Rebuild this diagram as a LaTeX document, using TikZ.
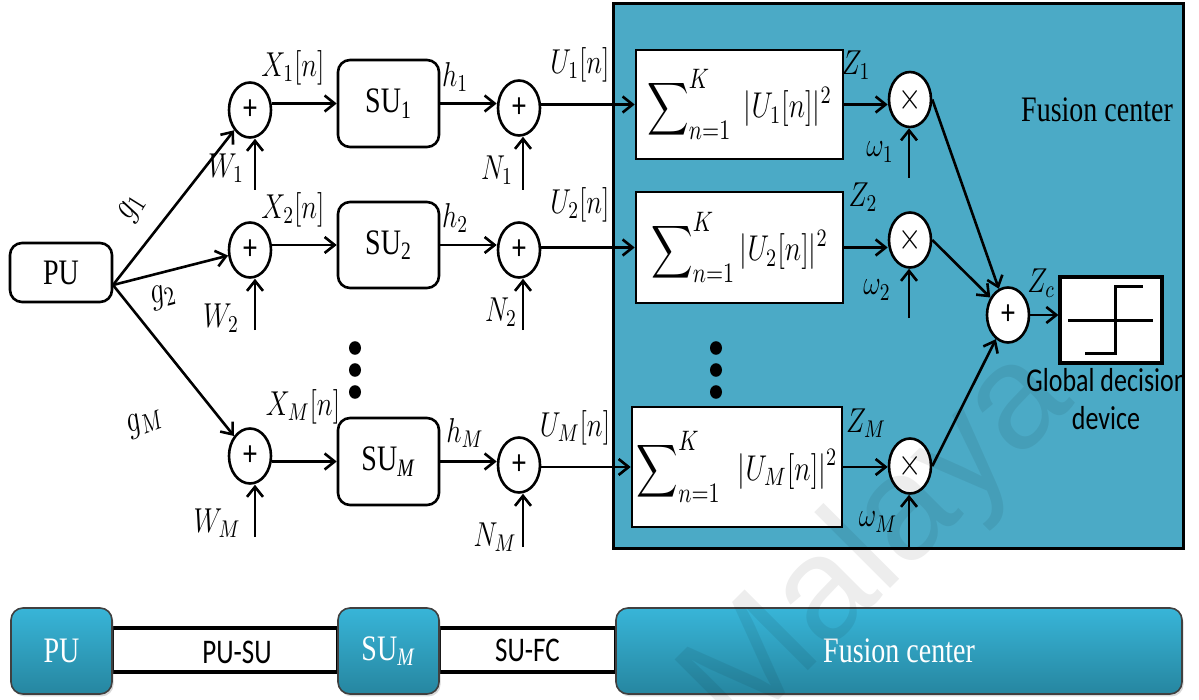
\RequirePackage{fix-cm}
\documentclass[tikz,border=0pt]{standalone}
\usepackage{exscale}
\usepackage{fontspec}
\setmainfont{Liberation Serif}
\newfontfamily\calib{Carlito}
\newfontfamily\wmfont{Liberation Sans}
\usetikzlibrary{shapes.geometric,arrows.meta,calc,shadows}
% all lettering is set slightly taller than wide
\newcommand\st[1]{\scalebox{1}[1.28]{#1}}
% sum limits set a little larger than ordinary script size
\newcommand\sumlim[1]{\mbox{\fontsize{11}{12}\selectfont$#1$}}
\newcommand\energy[2]{$\displaystyle\sum\nolimits_{\sumlim{n{=}1}}^{\sumlim{K}}#1|U_{#2}[n]|^2$}
\definecolor{fcblue}{RGB}{75,170,198}
\definecolor{btntop}{RGB}{56,181,216}
\definecolor{btnbot}{RGB}{38,134,160}

\begin{document}
\begin{tikzpicture}[x=0.5pt, y=-0.5pt, line width=1.3pt,
  >={Straight Barb[length=5pt,width=8pt]},
  every node/.style={inner sep=0pt},
  mathlab/.style={font=\fontsize{13.5}{15}\selectfont},
  glab/.style={font=\fontsize{15}{16}\selectfont},
  blk/.style={draw, rounded corners=6pt, fill=white, font=\fontsize{14}{16}\selectfont},
  addr/.style={draw, ellipse, fill=white, minimum width=21pt, minimum height=27.5pt,
               font=\calib\fontsize{14}{16}\selectfont},
  mult/.style={addr, font=\fontsize{15}{16}\selectfont},
  sumbox/.style={draw, fill=white, minimum width=103.5pt, font=\fontsize{14}{16}\selectfont},
  btn/.style={draw=black!75, line width=0.8pt, rounded corners=6pt,
              top color=btntop, bottom color=btnbot, text=white,
              minimum width=50.5pt, minimum height=43pt, font=\fontsize{14}{16}\selectfont,
              drop shadow={opacity=0.3, shadow xshift=0.8pt, shadow yshift=-1.2pt}},
  band/.style={draw, fill=white, line width=1.6pt, minimum height=22pt,
               font=\calib\fontsize{13.5}{16}\selectfont}
]
\useasboundingbox (0,0) rectangle (1199,700);
\clip (0,0) rectangle (1199,700);

% ---------- fusion centre background ----------
\node[fill=fcblue, minimum width=283.5pt, minimum height=271pt] (fc) at (898.5,276) {};

% ---------- primary user and fork ----------
\node[blk, minimum width=51pt, minimum height=29.5pt] (pu) at (61,272.5) {\st{PU}};
\coordinate (fork) at (113,285);

% ---------- first adders (fading noise W) ----------
\node[addr] (a1) at (250,110) {\st{+}};
\node[addr] (a2) at (250,250) {\st{+}};
\node[addr] (aM) at (250,456) {\st{+}};

% ---------- secondary users ----------
\node[blk, minimum width=50.5pt, minimum height=43.5pt] (su1) at (388.5,103.5) {\st{SU\textsubscript{1}}};
\node[blk, minimum width=50.5pt, minimum height=43pt]   (su2) at (388.5,245)   {\st{SU\textsubscript{2}}};
\node[blk, minimum width=50.5pt, minimum height=43.5pt] (suM) at (388.5,461.5) {\st{SU\textsubscript{\textit{M}}}};

% ---------- second adders (noise N) ----------
\node[addr] (b1) at (519,108) {\st{+}};
\node[addr] (b2) at (519,250) {\st{+}};
\node[addr] (bM) at (519,465) {\st{+}};

% ---------- energy detectors ----------
\node[sumbox, minimum height=54.5pt] (s1) at (739.5,104.5) {\st{\energy{\;}{1}}\hspace{5pt}};
\node[sumbox, minimum height=55.5pt] (s2) at (739.5,247.5) {\st{\energy{}{2}}\hspace{9pt}};
\node[sumbox, minimum width=105pt, minimum height=60pt] (sM) at (737,467) {\st{\energy{\;\,}{M}}\hspace{3pt}};

% ---------- weighting ----------
\node[mult] (m1) at (910,99.5) {\st{$\times$}};
\node[mult] (m2) at (910,240)  {\st{$\times$}};
\node[mult] (mM) at (910,466)  {\st{$\times$}};

% ---------- combiner and decision ----------
\node[addr] (sa) at (1008,315) {\st{+}};
\node[draw, fill=white, line width=1.6pt, minimum width=51pt, minimum height=43pt] (dec) at (1111,320) {};
\draw[line width=1.5pt] (1068,320) -- (1153,320);
\draw[line width=1.5pt] (1085,353) -- (1115,353) -- (1115,287) -- (1143,287);

% ---------- channels from the PU ----------
\draw[->] (fork) -- (a1);
\draw[->] (fork) -- (a2);
\draw[->] (fork) -- (aM);
\node[glab, rotate=58] (g1) at (132,208) {\st{$g_1$}};
\node[glab, rotate=15] (g2) at (163,297) {\st{$g_2$}};
\node[glab, rotate=20] (gM) at (145,423) {\st{$g_M$}};

% ---------- signal rows ----------
\draw[->] (a1.east |- su1.west) -- (su1.west);
\draw[->] (a2.east |- su2.west) -- (su2.west);
\draw[->] (aM.east |- suM.west) -- (suM.west);
\draw[->] (su1.east) -- (su1.east -| b1.west);
\draw[->] (su2.east) -- (su2.east -| b2.west);
\draw[->] (suM.east) -- (suM.east -| bM.west);
\draw[->] (b1.east |- s1.west) -- (s1.west);
\draw[->] (b2.east |- s2.west) -- (s2.west);
\draw[->] (bM.east |- sM.west) -- (sM.west);
\draw[->] (s1.east) -- (s1.east -| m1.west);
\draw[->] (s2.east) -- (s2.east -| m2.west);
\draw[->] (sM.east) -- (sM.east -| mM.west);
\draw[->] (m1.east) -- (sa);
\draw[->] (m2.east) -- (sa);
\draw[->] (mM.east) -- (sa);
\draw[->] (sa.east) -- (sa.east -| dec.west);

% ---------- additive inputs from below ----------
\coordinate (w1) at (255,190);  \draw[->] (w1) -- (w1 |- a1.south);
\coordinate (w2) at (255,330);  \draw[->] (w2) -- (w2 |- a2.south);
\coordinate (wM) at (255,537);  \draw[->] (wM) -- (wM |- aM.south);
\coordinate (n1) at (523,190);  \draw[->] (n1) -- (n1 |- b1.south);
\coordinate (n2) at (523,330);  \draw[->] (n2) -- (n2 |- b2.south);
\coordinate (nM) at (523,547);  \draw[->] (nM) -- (nM |- bM.south);
\coordinate (o1) at (909,178);  \draw[->] (o1) -- (o1 |- m1.south);
\coordinate (o2) at (909,318);  \draw[->] (o2) -- (o2 |- m2.south);
\coordinate (oM) at (909,547);  \draw[->] (oM) -- (oM |- mM.south);

% ---------- signal labels ----------
\node[mathlab] (lw1) at (226,168) {\st{$W_1$}};
\node[mathlab] (lw2) at (221,318) {\st{$W_2$}};
\node[mathlab] (lwM) at (217,523) {\st{$W_M$}};
\node[mathlab] (lx1) at (293,68)  {\st{$X_1[n]$}};
\node[mathlab] (lx2) at (293,210) {\st{$X_2[n]$}};
\node[mathlab] (lxM) at (303,407) {\st{$X_M[n]$}};
\node[mathlab] (lh1) at (455,77)  {\st{$h_1$}};
\node[mathlab] (lh2) at (455,218) {\st{$h_2$}};
\node[mathlab] (lhM) at (465,433) {\st{$h_M$}};
\node[mathlab] (ln1) at (497,170) {\st{$N_1$}};
\node[mathlab] (ln2) at (501,312) {\st{$N_2$}};
\node[mathlab] (lnM) at (495,537) {\st{$N_M$}};
\node[mathlab] (lu1) at (580,65)  {\st{$U_1[n]$}};
\node[mathlab] (lu2) at (580,205) {\st{$U_2[n]$}};
\node[mathlab] (luM) at (575,428) {\st{$U_M[n]$}};
\node[mathlab] (lz1) at (856,65)  {\st{$Z_1$}};
\node[mathlab] (lz2) at (863,197) {\st{$Z_2$}};
\node[mathlab] (lzM) at (866,423) {\st{$Z_M$}};
\node[mathlab] (lo1) at (880,152) {\st{$\omega_1$}};
\node[mathlab] (lo2) at (877,290) {\st{$\omega_2$}};
\node[mathlab] (loM) at (878,522) {\st{$\omega_M$}};
\node[mathlab] (lzc) at (1041,283) {\st{$Z_c$}};

% ---------- continuation dots ----------
\foreach \yy in {348,370,392} {
  \fill (355,\yy) ellipse (3pt and 3.4pt);
  \fill (716,\yy) ellipse (3pt and 3.4pt);
}

% ---------- fusion centre captions and frame ----------
\node[font=\fontsize{14}{16}\selectfont] (fct) at (1097,110) {\st{Fusion center}};
\begin{scope}
  \clip (fc.south west) rectangle (fc.north east);
  \node[font=\calib\fontsize{13}{16}\selectfont] (gdd1) at (1107,380) {\st{Global decision}};
  \node[font=\calib\fontsize{13}{16}\selectfont] (gdd2) at (1106,418) {\st{device}};
\end{scope}
\draw[line width=1.6pt] (fc.north west) rectangle (fc.south east);

% ---------- link summary bar ----------
\node[band, minimum width=113pt] (pusu) at (225,650) {};
\node[font=\calib\fontsize{13.5}{16}\selectfont] (pusut) at (237,652) {\st{PU-SU}};
\node[band, minimum width=88.5pt] (sufc) at (527.5,650) {\st{SU-FC}};
\node[btn] (pub) at (61.5,651) {\st{PU}};
\node[btn] (sub) at (388.5,651) {\st{SU\textsubscript{\textit{M}}}};
\node[btn, minimum width=283pt] (fcb) at (899,651) {\st{Fusion center}};

% ---------- watermark ----------
\node[rotate=45, text=black, opacity=0.07, font=\wmfont\fontsize{74}{74}\selectfont] (wm) at (880,545) {Malaya};
\end{tikzpicture}
\end{document}
